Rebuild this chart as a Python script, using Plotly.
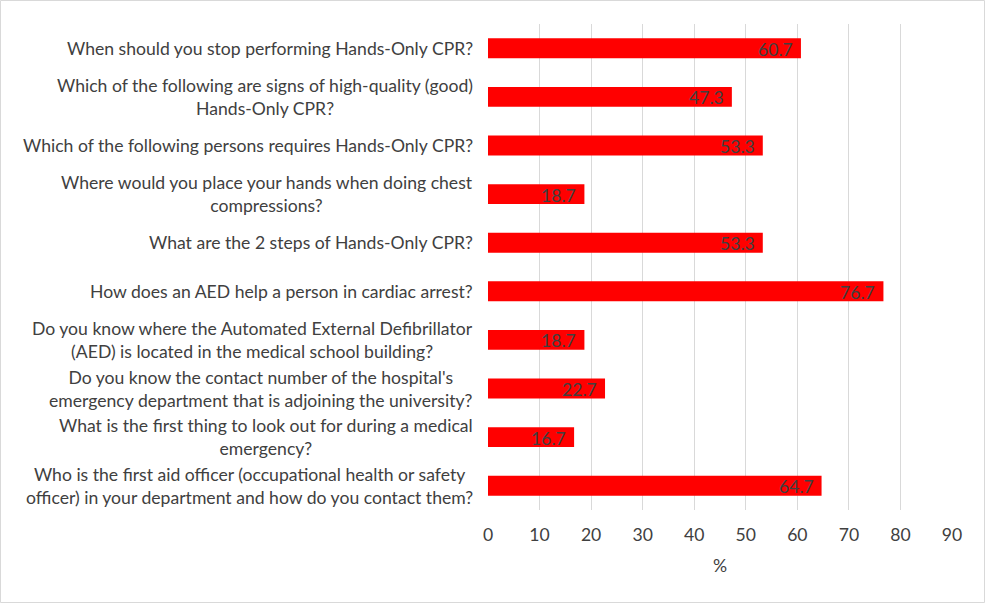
import plotly.graph_objects as go

questions = [
    "When should you stop performing Hands-Only CPR?",
    "Which of the following are signs of high-quality (good)<br>Hands-Only CPR?",
    "Which of the following persons requires Hands-Only CPR?",
    "Where would you place your hands when doing chest<br>compressions?",
    "What are the 2 steps of Hands-Only CPR?",
    "How does an AED help a person in cardiac arrest?",
    "Do you know where the Automated External Defibrillator<br>(AED) is located in the medical school building?",
    "Do you know the contact number of the hospital's<br>emergency department that is adjoining the university?",
    "What is the first thing to look out for during a medical<br>emergency?",
    "Who is the first aid officer (occupational health or safety<br>officer) in your department and how do you contact them?",
]
percent = [60.7, 47.3, 53.3, 18.7, 53.3, 76.7, 18.7, 22.7, 16.7, 64.7]
x_ticks = [0, 10, 20, 30, 40, 50, 60, 70, 80, 90]

FONT = "Lato"
FS = 17.6
TXT = "#404040"

idx = list(range(len(questions)))

fig = go.Figure(go.Bar(
    x=percent, y=idx, orientation="h",
    marker=dict(color="#FF0000", line=dict(width=0)),
    width=0.41, hoverinfo="x+y",
))

for i, (q, v) in enumerate(zip(questions, percent)):
    fig.add_annotation(x=0, xref="paper", y=i, yref="y", text=q,
                       xanchor="right", yanchor="middle", align="center",
                       xshift=-13, showarrow=False,
                       font=dict(family=FONT, size=FS, color=TXT))
    fig.add_annotation(x=v, xref="x", y=i, yref="y", text=f"{v:.1f}",
                       xanchor="right", yanchor="middle", xshift=-6, yshift=-1,
                       showarrow=False,
                       font=dict(family=FONT, size=FS, color=TXT))

W, H = 986, 604
ml, mr, mt, mb = 488, 34, 24, 94
pw, ph = W - ml - mr, H - mt - mb

fig.update_layout(
    width=W, height=H,
    margin=dict(l=ml, r=mr, t=mt, b=mb),
    paper_bgcolor="white", plot_bgcolor="white",
    showlegend=False,
    font=dict(family=FONT, size=FS, color=TXT),
    xaxis=dict(range=[0, 90], tickvals=x_ticks, showgrid=True, gridcolor="#D9D9D9",
               gridwidth=1, zeroline=False, showline=False, ticks="",
               ticklabelstandoff=12,
               title=dict(text="%", font=dict(family=FONT, size=FS, color=TXT), standoff=16),
               tickfont=dict(family=FONT, size=FS, color=TXT)),
    yaxis=dict(range=[9.5, -0.5], showticklabels=False, showgrid=False, zeroline=False,
               showline=False, ticks=""),
    shapes=[dict(type="rect", xref="paper", yref="paper",
                 x0=-(ml - 0.5) / pw, x1=1 + (mr - 1.5) / pw,
                 y0=-(mb - 1.5) / ph, y1=1 + (mt - 0.5) / ph,
                 line=dict(color="#D9D9D9", width=1), fillcolor="rgba(0,0,0,0)", layer="below")],
)

fig.write_html("out.html", config={"displayModeBar": False},
               post_script="document.body.style.margin='0';")
